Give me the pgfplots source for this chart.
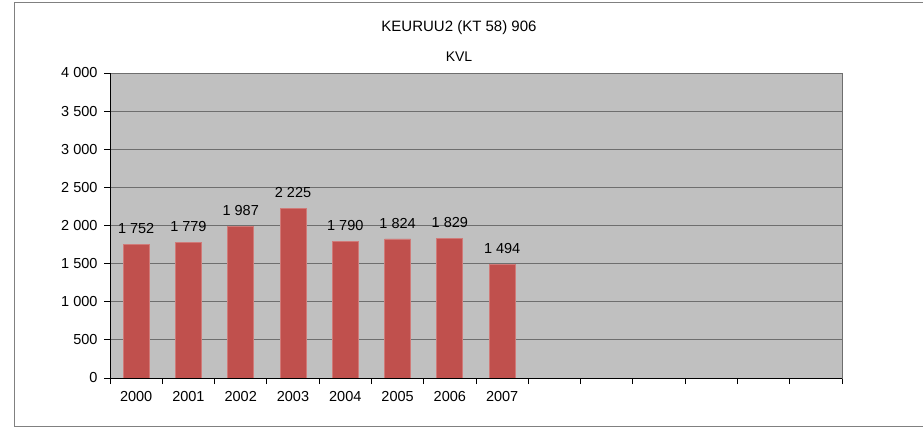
\documentclass[border=0pt]{standalone}
\usepackage{fontspec}
\setmainfont{Liberation Sans}
\usepackage{pgfplots}
\pgfplotsset{compat=1.18}
\definecolor{barred}{HTML}{C0504D}
\definecolor{baredge}{HTML}{D07A78}
\definecolor{plotgray}{HTML}{C0C0C0}
\definecolor{gridgray}{HTML}{6E6E6E}
\definecolor{framegray}{HTML}{808080}
\begin{document}
\begin{tikzpicture}[x=1pt,y=1pt]
\path[use as bounding box] (0,0) rectangle (923,429);
% outer chart frame (right side runs off the image)
\draw[framegray, line width=1pt] (930,426) -- (14,426) -- (14,3) -- (930,3);
\node[font=\fontsize{15}{18}\selectfont] at (459,401) {KEURUU2 (KT 58) 906};
\node[font=\fontsize{14}{17}\selectfont] at (459,372) {KVL};
\begin{axis}[at={(110pt,51pt)}, anchor=south west, scale only axis,
  width=732pt, height=305pt,
  xmin=-0.5, xmax=13.5, ymin=0, ymax=4000,
  axis background/.style={fill=plotgray},
  axis line style={gridgray, line width=1pt},
  ybar, bar width=26pt,
  ytick={0,500,...,4000}, ymajorgrids,
  grid style={gridgray, line width=0.9pt},
  xtick={-0.5,0.5,...,13.5}, xticklabels={},
  extra x ticks={0,1,2,3,4,5,6,7},
  extra x tick labels={2000,2001,2002,2003,2004,2005,2006,2007},
  extra x tick style={major tick length=0pt, grid=none},
  tick align=outside, tick pos=left,
  major tick length=6pt,
  tick style={black, line width=0.8pt},
  /pgf/number format/1000 sep={\ },
  /pgf/number format/assume math mode=true,
  tick label style={font=\fontsize{14.5}{17}\selectfont},
  xticklabel style={yshift=-10pt},
  yticklabel style={xshift=-3pt},
  nodes near coords,
  nodes near coords style={font=\fontsize{14.5}{17}\selectfont, inner sep=0pt, yshift=10pt, black},
]
\addplot[fill=barred, draw=baredge, line width=0.8pt] coordinates {
  (0,1752) (1,1779) (2,1987) (3,2225) (4,1790) (5,1824) (6,1829) (7,1494)
};
\draw[black, line width=1pt] (rel axis cs:0,1) -- (rel axis cs:0,0) -- (rel axis cs:1,0);
\end{axis}
\end{tikzpicture}
\end{document}
